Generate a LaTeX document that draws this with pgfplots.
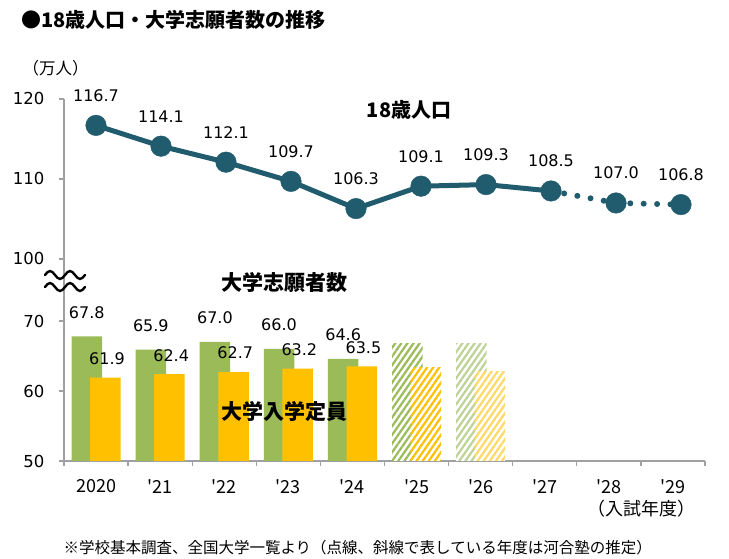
\documentclass[border=0pt]{standalone}
\usepackage{fontspec}
\usepackage{pgfplots}
\pgfplotsset{compat=1.18}
\usetikzlibrary{patterns.meta}
\setmainfont{DejaVu Sans}
\newfontfamily\jp{Noto Sans CJK JP}

\definecolor{lineblue}{HTML}{215B6E}
\definecolor{barg}{HTML}{9BBB59}
\definecolor{baro}{HTML}{FFC000}
\definecolor{bargl}{HTML}{BDD395}
\definecolor{barol}{HTML}{FFD966}
\definecolor{axisgray}{HTML}{A0A0A0}

\tikzset{labelfont/.style={font=\fontsize{16}{18}\selectfont, text=black}}

\pgfplotsset{
  common/.style={
    scale only axis, width=641pt,
    axis line style={-, draw=axisgray, line width=1.3pt},
    tick align=outside, major tick length=5pt,
    tick style={draw=axisgray, line width=1.3pt},
    /pgf/number format/assume math mode=true,
    yticklabel style={font=\fontsize{16.5}{18}\selectfont, xshift=-11pt},
    /pgf/number format/.cd, fixed, fixed zerofill, precision=1,
  },
}

\begin{document}
\begin{tikzpicture}[x=1pt,y=1pt]
\useasboundingbox (0,0) rectangle (729,559);

% applicants and capacity (lower part, 50-70)
\begin{axis}[common,
  at={(64pt,98pt)}, anchor=south west, height=140pt,
  xmin=-0.5, xmax=9.5, ymin=50, ymax=70,
  axis x line*=bottom, axis y line*=left,
  xtick={-0.5,0.5,...,9.5}, x tick label as interval,
  xticklabels={2020,'21,'22,'23,'24,'25,'26,'27,'28,'29},
  xticklabel style={font=\jp\fontsize{18}{20}\selectfont, yshift=-10pt},
  ytick={50,60,70},
  yticklabel style={/pgf/number format/precision=0, /pgf/number format/fixed zerofill=false},
]
% applicants
\addplot[ybar, bar width=30.5pt, bar shift=-9.3pt, fill=barg, draw=none,
  nodes near coords, every node near coord/.append style={labelfont, anchor=center, xshift=-9.3pt, yshift=24pt}]
  coordinates {(0,67.8) (1,65.9) (2,67.0) (3,66.0) (4,64.6)};
\addplot[ybar, bar width=30.5pt, bar shift=-9.3pt, draw=none, fill=white,
  postaction={pattern color=barg, pattern={Lines[angle=55,distance=5pt,line width=2.2pt]}}]
  coordinates {(5,66.8)};
\addplot[ybar, bar width=30.5pt, bar shift=-9.3pt, draw=none, fill=white,
  postaction={pattern color=bargl, pattern={Lines[angle=55,distance=5pt,line width=2.2pt]}}]
  coordinates {(6,66.8)};
% capacity
\addplot[ybar, bar width=30.5pt, bar shift=9.3pt, fill=baro, draw=none,
  nodes near coords, every node near coord/.append style={labelfont, anchor=center, xshift=11pt, yshift=19pt}]
  coordinates {(0,61.9) (1,62.4) (2,62.7) (3,63.2) (4,63.5)};
\addplot[ybar, bar width=30.5pt, bar shift=9.3pt, draw=none, fill=white,
  postaction={pattern color=baro, pattern={Lines[angle=55,distance=5pt,line width=2.2pt]}}]
  coordinates {(5,63.3)};
\addplot[ybar, bar width=30.5pt, bar shift=9.3pt, draw=none, fill=white,
  postaction={pattern color=barol, pattern={Lines[angle=55,distance=5pt,line width=2.2pt]}}]
  coordinates {(6,62.8)};
\end{axis}

% 18-year-old population (upper part, 100-120)
\begin{axis}[common,
  at={(64pt,238pt)}, anchor=south west, height=222pt,
  xmin=-0.4923, xmax=9.369, ymin=92.25, ymax=120,
  axis x line=none, axis y line*=left,
  ytick={100,110,120}, clip=false,
  yticklabel style={/pgf/number format/precision=0, /pgf/number format/fixed zerofill=false},
]
\addplot[lineblue, line width=5pt, no marks]
  coordinates {(0,116.7) (1,114.1) (2,112.1) (3,109.7) (4,106.3) (5,109.1) (6,109.3) (7,108.5)};
\addplot[lineblue, line width=6pt, line cap=round, dash pattern=on 0pt off 13.4pt, no marks]
  coordinates {(7,108.5) (8,107.0) (9,106.8)};
\addplot[only marks, mark=*, mark size=10.3pt, lineblue,
  nodes near coords, every node near coord/.append style={labelfont, anchor=center, yshift=30pt}]
  coordinates {(0,116.7) (1,114.1) (2,112.1) (3,109.7) (4,106.3) (5,109.1) (6,109.3) (7,108.5) (8,107.0) (9,106.8)};
\end{axis}

% axis break mark
\foreach \yy in {284,272} {
  \draw[line width=2.4pt, line cap=round] (45,\yy) sin (50,\yy+4) cos (55,\yy) sin (60,\yy-4) cos (65,\yy)
    sin (70,\yy+4) cos (75,\yy) sin (80,\yy-4) cos (85,\yy);
}

\node[anchor=west, font=\jp\bfseries\fontsize{20}{23}\selectfont] at (18,539) {●18歳人口・大学志願者数の推移};
\node[anchor=west, font=\jp\fontsize{16.5}{18}\selectfont] at (19,491) {（万人）};
\node[font=\jp\bfseries\fontsize{20}{22}\selectfont] at (409,449) {18歳人口};
\node[font=\jp\bfseries\fontsize{21}{23}\selectfont] at (284,276) {大学志願者数};
\node[font=\jp\bfseries\fontsize{21}{23}\selectfont] at (284,147) {大学入学定員};
\node[font=\jp\fontsize{18}{20}\selectfont] at (641,50) {（入試年度）};
\node[anchor=west, font=\jp\fontsize{15.5}{17}\selectfont] at (60,11) {※学校基本調査、全国大学一覧より（点線、斜線で表している年度は河合塾の推定）};
\end{tikzpicture}
\end{document}
